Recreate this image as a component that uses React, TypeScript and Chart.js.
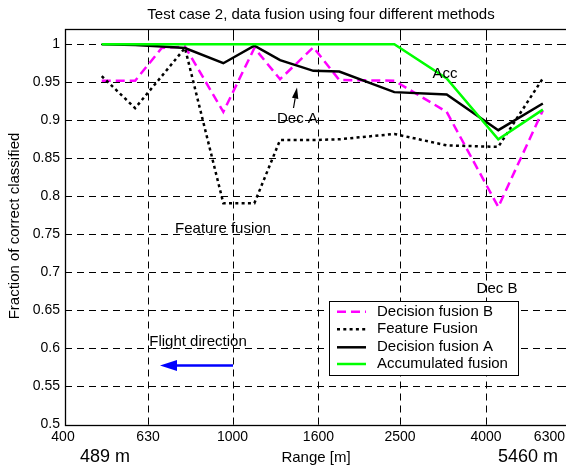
import React, { useEffect, useRef } from "react";
import { Chart, registerables } from "chart.js";

Chart.register(...registerables);

// ---------- data ----------
const chartTitle = "Test case 2, data fusion using four different methods";
const xAxisLabel = "Range [m]";
const yAxisLabel = "Fraction of correct classified";
const startLabel = "489 m";
const endLabel = "5460 m";

const rangesM = [489, 587, 679, 771, 951, 1127, 1297, 1556, 1793, 2423, 3227, 4279, 5460];
const decisionFusionB = [0.952, 0.952, 0.995, 0.997, 0.911, 0.995, 0.954, 0.996, 0.953, 0.952, 0.911, 0.786, 0.913];
const featureFusion = [0.958, 0.916, 0.958, 0.995, 0.791, 0.791, 0.874, 0.874, 0.875, 0.882, 0.867, 0.865, 0.955];
const decisionFusionA = [1.0, 0.999, 0.997, 0.995, 0.975, 0.998, 0.979, 0.965, 0.964, 0.937, 0.934, 0.887, 0.922];
const accumulatedFusion = [1, 1, 1, 1, 1, 1, 1, 1, 1, 1, 0.955, 0.875, 0.914];

const seriesNames = ["Decision fusion B", "Feature Fusion", "Decision fusion A", "Accumulated fusion"];
const seriesValues = [decisionFusionB, featureFusion, decisionFusionA, accumulatedFusion];

const xTicks = [400, 630, 1000, 1600, 2500, 4000, 6300];
const xTickLabels = ["400", "630", "1000", "1600", "2500", "4000", "6300"];
const yTicks = [0.5, 0.55, 0.6, 0.65, 0.7, 0.75, 0.8, 0.85, 0.9, 0.95, 1];
const yTickLabels = ["0.5", "0.55", "0.6", "0.65", "0.7", "0.75", "0.8", "0.85", "0.9", "0.95", "1"];

// ---------- styles ----------
const FONT = "'Liberation Sans', Arial, Helvetica, sans-serif";
const TEXT = 15;
const TICK = 14;
const seriesStyles = [
  { color: "#ff00ff", dash: [9, 5], width: 2.5, order: 3 },
  { color: "#000000", dash: [3, 3.3], width: 2.5, order: 2 },
  { color: "#000000", dash: [] as number[], width: 2.5, order: 1 },
  { color: "#00ff00", dash: [] as number[], width: 2.5, order: 0 },
];

function txt(ctx: CanvasRenderingContext2D, s: string, x: number, y: number, size: number, align: CanvasTextAlign = "center", base: CanvasTextBaseline = "middle", color = "#000") {
  ctx.font = `${size}px ${FONT}`;
  ctx.fillStyle = color;
  ctx.textAlign = align;
  ctx.textBaseline = base;
  ctx.fillText(s, x, y);
}

function arrow(ctx: CanvasRenderingContext2D, x1: number, y1: number, x2: number, y2: number, color: string, lw: number, headLen: number, headHalf: number) {
  const ang = Math.atan2(y2 - y1, x2 - x1);
  const bx = x2 - headLen * Math.cos(ang);
  const by = y2 - headLen * Math.sin(ang);
  ctx.strokeStyle = color;
  ctx.lineWidth = lw;
  ctx.setLineDash([]);
  ctx.beginPath();
  ctx.moveTo(x1, y1);
  ctx.lineTo(bx, by);
  ctx.stroke();
  ctx.fillStyle = color;
  ctx.beginPath();
  ctx.moveTo(x2, y2);
  ctx.lineTo(bx + headHalf * Math.sin(ang), by - headHalf * Math.cos(ang));
  ctx.lineTo(bx - headHalf * Math.sin(ang), by + headHalf * Math.cos(ang));
  ctx.closePath();
  ctx.fill();
}

const matlabPlugin = {
  id: "matlabAxes",
  beforeDatasetsDraw(chart: any) {
    const { ctx, chartArea: a, scales } = chart;
    const xs = scales.x;
    const ys = scales.y;
    ctx.save();
    ctx.strokeStyle = "#000";
    ctx.lineWidth = 1;
    ctx.setLineDash([7, 5]);
    xTicks.forEach((t) => {
      if (t === xTicks[0] || t === xTicks[xTicks.length - 1]) return;
      const px = Math.round(xs.getPixelForValue(t)) + 0.5;
      ctx.beginPath();
      ctx.moveTo(px, a.bottom);
      ctx.lineTo(px, a.top);
      ctx.stroke();
    });
    yTicks.forEach((t) => {
      if (t === yTicks[0]) return;
      const py = Math.round(ys.getPixelForValue(t)) + 0.5;
      ctx.beginPath();
      ctx.moveTo(a.left, py);
      ctx.lineTo(a.right, py);
      ctx.stroke();
    });
    ctx.setLineDash([]);
    // tick marks (inward)
    xTicks.forEach((t) => {
      const px = Math.round(xs.getPixelForValue(t)) + 0.5;
      ctx.beginPath();
      ctx.moveTo(px, a.bottom);
      ctx.lineTo(px, a.bottom - 5);
      ctx.moveTo(px, a.top);
      ctx.lineTo(px, a.top + 5);
      ctx.stroke();
    });
    yTicks.forEach((t) => {
      const py = Math.round(ys.getPixelForValue(t)) + 0.5;
      ctx.beginPath();
      ctx.moveTo(a.left, py);
      ctx.lineTo(a.left + 5, py);
      ctx.moveTo(a.right, py);
      ctx.lineTo(a.right - 5, py);
      ctx.stroke();
    });
    // box
    ctx.lineWidth = 1.3;
    ctx.strokeRect(Math.round(a.left) + 0.5, Math.round(a.top) + 0.5, Math.round(a.right - a.left), Math.round(a.bottom - a.top));
    ctx.restore();
  },
  afterDraw(chart: any) {
    const { ctx, chartArea: a, scales } = chart;
    const xs = scales.x;
    const ys = scales.y;
    ctx.save();
    // y tick labels
    yTicks.forEach((t, i) => {
      txt(ctx, yTickLabels[i], a.left - 5, ys.getPixelForValue(t), TICK, "right", "middle");
    });
    // x tick labels
    xTicks.forEach((t, i) => {
      const px = xs.getPixelForValue(t);
      if (i === xTicks.length - 1) txt(ctx, xTickLabels[i], 565, a.bottom + 6, TICK, "right", "top");
      else txt(ctx, xTickLabels[i], i === 0 ? px - 2 : px, a.bottom + 6, TICK, "center", "top");
    });
    // title & axis labels
    txt(ctx, chartTitle, 321, 15, TEXT);
    txt(ctx, xAxisLabel, 316, 458, TEXT);
    ctx.save();
    ctx.translate(15, 226);
    ctx.rotate(-Math.PI / 2);
    txt(ctx, yAxisLabel, 0, 0, TEXT);
    ctx.restore();
    txt(ctx, startLabel, 80, 457, 18, "left");
    txt(ctx, endLabel, 558, 457, 18, "right");
    // annotations
    txt(ctx, "Dec A", 277, 119, TEXT, "left");
    arrow(ctx, 293.5, 108, 297, 87.5, "#000", 1.2, 11, 3.2);
    txt(ctx, "Acc", 445, 74, TEXT);
    txt(ctx, "Dec B", 497, 289, TEXT);
    txt(ctx, "Feature fusion", 223, 229, TEXT);
    txt(ctx, "Flight direction", 198, 342, TEXT);
    arrow(ctx, 233, 365.5, 160, 365.5, "#0000ff", 2.5, 17, 5.5);
    // legend
    const lx = 329.5, ly = 301.5, lw = 189, lh = 74;
    ctx.fillStyle = "#fff";
    ctx.fillRect(lx, ly, lw, lh);
    ctx.strokeStyle = "#000";
    ctx.lineWidth = 1;
    ctx.setLineDash([]);
    ctx.strokeRect(lx, ly, lw, lh);
    const rows = [311.7, 329.3, 347.3, 364];
    seriesNames.forEach((name, i) => {
      const st = seriesStyles[i];
      ctx.strokeStyle = st.color;
      ctx.lineWidth = st.width;
      ctx.lineCap = "butt";
      ctx.setLineDash(st.dash);
      ctx.beginPath();
      ctx.moveTo(337, rows[i]);
      ctx.lineTo(366, rows[i]);
      ctx.stroke();
      ctx.setLineDash([]);
      txt(ctx, name, 377, rows[i], TEXT, "left");
    });
    ctx.restore();
  },
};

export default function App() {
  const ref = useRef<HTMLCanvasElement | null>(null);
  useEffect(() => {
    if (!ref.current) return;
    const datasets = seriesNames.map((name, i) => ({
      label: name,
      data: rangesM.map((r, j) => ({ x: r, y: seriesValues[i][j] })),
      borderColor: seriesStyles[i].color,
      backgroundColor: seriesStyles[i].color,
      borderWidth: seriesStyles[i].width,
      borderDash: seriesStyles[i].dash,
      borderCapStyle: "butt" as const,
      borderJoinStyle: "miter" as const,
      pointRadius: 0,
      tension: 0,
      fill: false,
      order: seriesStyles[i].order,
    }));
    const chart = new Chart(ref.current, {
      type: "line",
      data: { datasets },
      options: {
        responsive: false,
        animation: false,
        devicePixelRatio: 1,
        layout: { padding: { left: 65, top: 29, right: 11, bottom: 43.5 } },
        scales: {
          x: { type: "logarithmic", min: 400, max: 6300, display: false },
          y: { type: "linear", min: 0.5, max: 1.02, display: false },
        },
        plugins: { legend: { display: false }, tooltip: { enabled: false }, title: { display: false } },
        events: [],
      },
      plugins: [matlabPlugin],
    });
    return () => chart.destroy();
  }, []);
  return (
    <div style={{ position: "fixed", left: 0, top: 0, width: 566, height: 468, overflow: "hidden", background: "#fff" }}>
      <canvas ref={ref} width={580} height={468} style={{ display: "block", width: 580, height: 468 }} />
    </div>
  );
}
